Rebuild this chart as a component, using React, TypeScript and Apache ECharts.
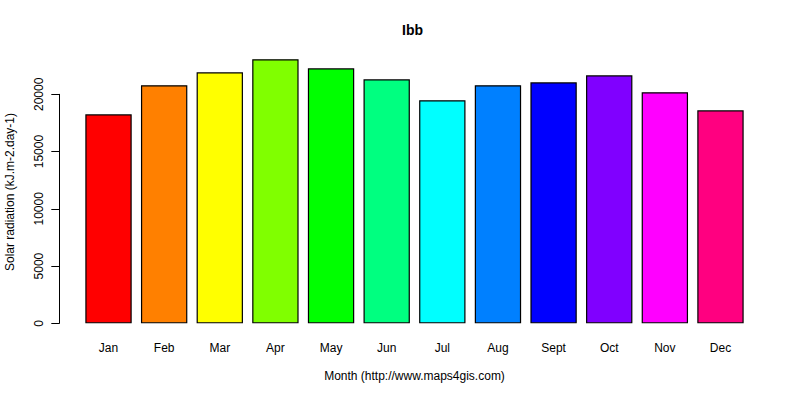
import React, { useEffect, useRef } from "react";
import * as echarts from "echarts";

const months = ["Jan", "Feb", "Mar", "Apr", "May", "Jun", "Jul", "Aug", "Sept", "Oct", "Nov", "Dec"];
const radiation = [18250, 20790, 21920, 23060, 22270, 21310, 19480, 20790, 21050, 21660, 20180, 18600];
const barColors = [
  "#FF0000", "#FF8000", "#FFFF00", "#80FF00", "#00FF00", "#00FF80",
  "#00FFFF", "#0080FF", "#0000FF", "#8000FF", "#FF00FF", "#FF0080",
];
const chartTitle = "Ibb";
const xTitle = "Month (http://www.maps4gis.com)";
const yTitle = "Solar radiation (kJ.m-2.day-1)";

const FONT = "'Liberation Sans', Arial, sans-serif";

export default function App() {
  const ref = useRef<HTMLDivElement>(null);
  useEffect(() => {
    if (!ref.current) return;
    const chart = echarts.init(ref.current, undefined, { renderer: "svg" });
    chart.setOption({
      animation: false,
      backgroundColor: "#ffffff",
      textStyle: { fontFamily: FONT },
      grid: [
        { left: 80.7, right: 51.7, top: 48.5, bottom: 76.67, containLabel: false },
        { left: 59.3, width: 1, top: 94.33, bottom: 76.67, containLabel: false },
      ],
      xAxis: [
        {
          type: "category",
          gridIndex: 0,
          data: months,
          boundaryGap: true,
          axisLine: { show: false },
          axisTick: { show: false },
          axisLabel: { color: "#000", fontSize: 12, margin: 19, fontFamily: FONT, interval: 0 },
          name: xTitle,
          nameLocation: "middle",
          nameGap: 47,
          nameTextStyle: { color: "#000", fontSize: 12, fontFamily: FONT },
        },
        { type: "value", gridIndex: 1, show: false, min: 0, max: 1 },
      ],
      yAxis: [
        {
          type: "value",
          gridIndex: 0,
          min: 0,
          max: 24000,
          show: false,
        },
        {
          type: "value",
          gridIndex: 1,
          min: 0,
          max: 20000,
          interval: 5000,
          axisLine: { show: true, lineStyle: { color: "#000", width: 1 } },
          axisTick: { show: true, length: 8, lineStyle: { color: "#000", width: 1 } },
          axisLabel: {
            color: "#000",
            fontSize: 12,
            rotate: 90,
            margin: 14,
            fontFamily: FONT,
            formatter: (v: number) => String(v),
          },
          splitLine: { show: false },
        },
      ],
      series: [
        {
          type: "bar",
          xAxisIndex: 0,
          yAxisIndex: 0,
          data: radiation.map((v, i) => ({ value: v, itemStyle: { color: barColors[i] } })),
          barCategoryGap: "16.67%",
          itemStyle: { borderColor: "#000", borderWidth: 1.2 },
        },
      ],
      graphic: [
        {
          type: "text",
          left: 414 - 12,
          top: 23,
          style: { text: chartTitle, fontSize: 14, fontWeight: "bold", fill: "#000", fontFamily: FONT },
        },
        {
          type: "text",
          x: 9.5,
          y: 192,
          rotation: Math.PI / 2,
          style: {
            text: yTitle,
            fontSize: 12,
            fill: "#000",
            fontFamily: FONT,
            align: "center",
            verticalAlign: "middle",
          },
        },
      ],
    });
    return () => chart.dispose();
  }, []);
  return <div ref={ref} style={{ width: 800, height: 400, position: "absolute", left: 0, top: 0 }} />;
}
